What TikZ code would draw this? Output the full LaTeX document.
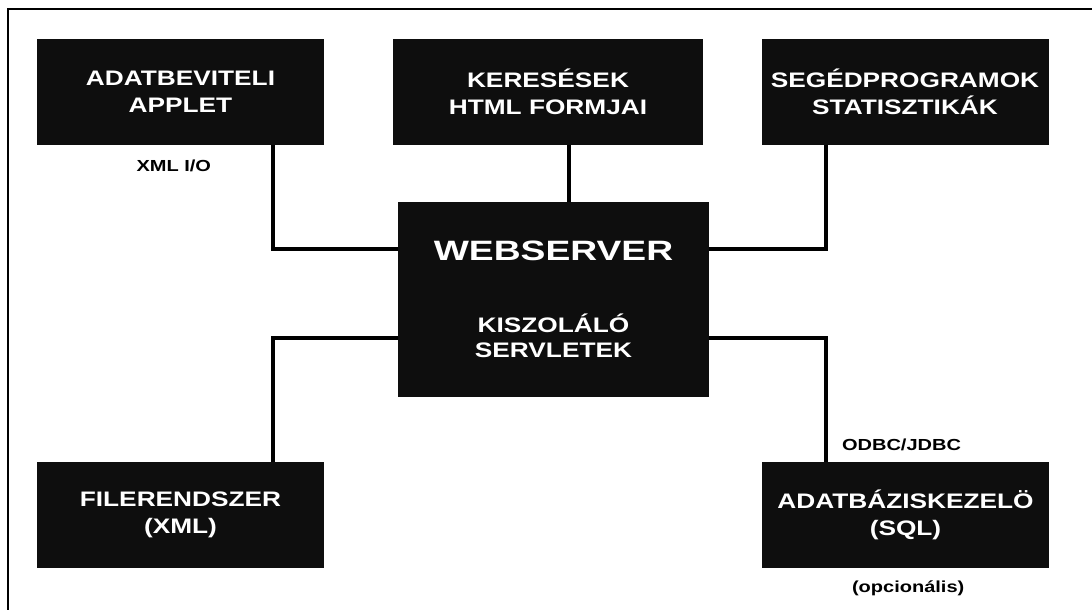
\documentclass[tikz,border=0pt]{standalone}
\usepackage{fontspec}
\setmainfont{Liberation Sans}[FakeStretch=1.25]
\newfontfamily\bigfont{Liberation Sans}[FakeStretch=1.33]
\usepackage{tikz}
\usetikzlibrary{positioning,calc}
\usepackage{xcolor}
\definecolor{boxcolor}{RGB}{14, 14, 14}

\begin{document}
\begin{tikzpicture}[
    x=0.75pt, y=-0.75pt,
    block/.style={rectangle, fill=boxcolor, text=white, minimum width=215.25pt, minimum height=79.5pt, align=center, inner sep=0pt, font=\bfseries\fontsize{15.75}{20.5}\selectfont},
    note/.style={inner sep=0pt, font=\bfseries\fontsize{12}{14}\selectfont},
    link/.style={line width=3pt}
]
    \useasboundingbox (0,0) rectangle (1092,610);

    % Frame
    \draw[line width=1pt] (8,610) -- (8,9) -- (1092,9);

    % Clients
    \node[block] (applet) at (180.5, 92) {ADATBEVITELI\\APPLET};
    \node[block, minimum width=232.5pt] (forms) at (548, 92) {KERESÉSEK\\HTML FORMJAI};
    \node[block] (stats) at (905, 92) {SEGÉDPROGRAMOK\\STATISZTIKÁK};

    % Server
    \node[block, minimum width=233.25pt, minimum height=146.25pt, font=\bfseries\fontsize{15.75}{18.75}\selectfont] (web) at (553.5, 299.5) {
        {\bigfont\fontsize{21}{24}\selectfont WEBSERVER}\\[35pt]
        KISZOLÁLÓ\\
        SERVLETEK
    };

    % Storage
    \node[block] (files) at (180.5, 515) {FILERENDSZER\\(XML)};
    \node[block] (db) at (905.5, 515) {ADATBÁZISKEZELÖ\\(SQL)};

    % Links
    \draw[link] ([xshift=69.4pt]applet.south) |- ([yshift=37.9pt]web.west);
    \draw[link] ([xshift=15.75pt]forms.south) -- ([xshift=15.75pt]forms.south |- web.north);
    \draw[link] ([xshift=-59.25pt]stats.south) |- ([yshift=37.9pt]web.east);
    \draw[link] ([xshift=69.4pt]files.north) |- ([yshift=-28.9pt]web.west);
    \draw[link] ([xshift=-59.6pt]db.north) |- ([yshift=-28.9pt]web.east);

    % Notes
    \node[note, below=11pt of applet, xshift=-5pt] (xmlio) {XML I/O};
    \node[note, above=8pt of db, xshift=-3pt] (odbc) {ODBC/JDBC};
    \node[note, below=9pt of db, xshift=2pt] (opt) {(opcionális)};
\end{tikzpicture}
\end{document}
